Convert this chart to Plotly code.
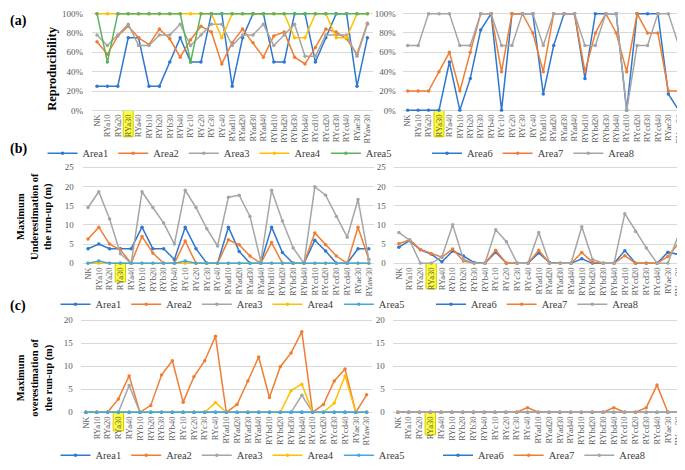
import plotly.graph_objects as go

# ---------------- data ----------------
cats = ["NK", "RYa10", "RYa20", "RYa30", "RYa40", "RYb10", "RYb20", "RYb30", "RYb40",
        "RYc10", "RYc20", "RYc30", "RYc40", "RYad10", "RYad20", "RYad30", "RYad40",
        "RYbd10", "RYbd20", "RYbd30", "RYbd40", "RYcd10", "RYcd20", "RYcd30", "RYcd40",
        "RYae30", "RYaw30"]
highlight_cat = "RYa30"

# (a) Reproducibility (%)
rep_area1 = [25, 25, 25, 75, 75, 25, 25, 50, 75, 50, 50, 100, 100, 25, 75, 100, 100, 50, 50, 100, 100, 50, 75, 100, 100, 25, 75]
rep_area2 = [71, 58, 77, 87, 75, 68, 84, 74, 55, 73, 87, 81, 48, 70, 84, 70, 55, 77, 81, 55, 48, 65, 84, 81, 74, 58, 90]
rep_area3 = [78, 67, 78, 89, 67, 67, 78, 78, 89, 67, 78, 89, 89, 67, 78, 78, 89, 67, 78, 89, 56, 56, 78, 78, 78, 56, 89]
rep_area4 = [100, 100, 100, 100, 100, 100, 100, 100, 100, 100, 100, 100, 75, 100, 100, 100, 100, 100, 100, 75, 75, 100, 100, 75, 75, 100, 100]
rep_area5 = [100, 50, 100, 100, 100, 100, 100, 100, 100, 50, 100, 100, 100, 100, 100, 100, 100, 100, 100, 100, 100, 100, 100, 100, 100, 100, 100]
rep_area6 = [0, 0, 0, 0, 50, 0, 33, 83, 100, 0, 100, 100, 100, 17, 67, 100, 100, 33, 100, 100, 100, 0, 100, 100, 100, 17, 0]
rep_area7 = [20, 20, 20, 40, 60, 20, 60, 100, 100, 40, 100, 100, 80, 40, 100, 100, 100, 40, 80, 100, 80, 40, 100, 80, 80, 20, 20]
rep_area8 = [67, 67, 100, 100, 100, 67, 67, 100, 100, 67, 67, 100, 100, 67, 100, 100, 100, 67, 67, 100, 100, 0, 67, 67, 100, 100, 67]

# (b) Maximum underestimation of the run-up (m)
und_area1 = [3.8, 5.0, 3.8, 3.8, 3.8, 9.4, 3.8, 3.8, 1.0, 9.4, 3.8, 0, 0, 9.4, 3.1, 0, 0, 9.4, 2.8, 0, 0, 6.0, 3.2, 0, 0, 3.8, 3.8]
und_area2 = [6.3, 9.4, 5.0, 3.5, 0, 7.0, 2.7, 0, 0, 5.8, 0, 0, 0, 6.1, 4.8, 1.9, 0, 5.4, 0, 0, 0, 7.9, 4.8, 1.9, 0, 9.4, 1.0]
und_area3 = [14.5, 18.6, 11.5, 2.5, 0, 18.6, 14.5, 10.5, 5.0, 19.0, 14.5, 9.0, 4.5, 17.2, 17.7, 12.2, 0.5, 19.0, 11.0, 4.0, 0, 19.9, 17.7, 12.2, 6.8, 16.6, 1.0]
und_area4 = [0, 0, 0, 0, 0, 0, 0, 0, 0, 0, 0, 0, 0, 0, 0, 0, 0, 0, 0, 0, 0, 0, 0, 0, 0, 0, 0]
und_area5 = [0, 0.6, 0, 0, 0, 0, 0, 0, 0, 0.6, 0, 0, 0, 0, 0, 0, 0, 0, 0, 0, 0, 0, 0, 0, 0, 0, 0]
und_area6 = [4.2, 5.9, 3.5, 2.4, 0.4, 3.2, 1.9, 0.2, 0, 2.9, 0, 0, 0, 2.7, 0.2, 0, 0, 1.2, 0, 0, 0, 3.3, 0, 0, 0, 2.9, 2.3]
und_area7 = [5.1, 6.1, 3.6, 2.5, 1.6, 3.7, 0.6, 0, 0, 3.4, 0, 0, 0, 3.4, 0, 0, 0, 2.8, 0.3, 0, 0, 2.0, 0, 0, 0, 1.8, 5.2]
und_area8 = [8.0, 6.0, 0, 0, 1.7, 10.0, 1.0, 0, 0, 8.7, 5.6, 0, 0, 8.0, 0, 0, 0, 9.5, 1.0, 0, 0, 12.9, 8.3, 4.0, 0, 0, 7.5]

# (c) Maximum overestimation of the run-up (m)
ove_area1 = [0, 0, 0, 0, 0, 0, 0, 0, 0, 0, 0, 0, 0, 0, 0, 0, 0, 0, 0, 0, 0, 0, 0, 0, 0, 0, 0]
ove_area2 = [0, 0, 0, 2.9, 7.9, 0, 1.5, 8.1, 11.2, 2.2, 7.7, 11.2, 16.5, 0, 1.7, 6.8, 12.0, 3.2, 9.9, 12.9, 17.5, 0, 1.7, 6.8, 9.4, 0, 3.8]
ove_area3 = [0, 0, 0, 0, 5.8, 0, 0, 0, 0, 0, 0, 0, 0, 0, 0, 0, 0, 0, 0, 0, 3.7, 0, 0, 0, 0, 0, 0]
ove_area4 = [0, 0, 0, 0, 0, 0, 0, 0, 0, 0, 0, 0, 2.1, 0, 0, 0, 0, 0, 0, 4.7, 6.1, 0, 0, 2.0, 7.9, 0, 0]
ove_area5 = [0, 0, 0, 0, 0, 0, 0, 0, 0, 0, 0, 0, 0, 0, 0, 0, 0, 0, 0, 0, 0, 0, 0, 0, 0, 0, 0]
ove_area6 = [0, 0, 0, 0, 0, 0, 0, 0, 0, 0, 0, 0, 0, 0, 0, 0, 0, 0, 0, 0, 0, 0, 0, 0, 0, 0, 0]
ove_area7 = [0, 0, 0, 0, 0, 0, 0, 0, 0, 0, 0, 0, 1.0, 0, 0, 0, 0, 0, 0, 0, 1.0, 0, 0, 1.0, 5.9, 0, 0]
ove_area8 = [0, 0, 0, 0, 0, 0, 0, 0, 0, 0, 0, 0, 0, 0, 0, 0, 0, 0, 0, 0, 0, 0, 0, 0, 0, 0, 0]

# ---------------- styles ----------------
FONT = "'Liberation Serif', 'Times New Roman', 'DejaVu Serif', serif"
# the page body has an 8px margin, so the figure is drawn 8px in from the window corner
OFF = 8
W, H = 685 - OFF, 470 - OFF
C_BLUE = "#2E78CF"
C_ORANGE = "#F07D32"
C_GRAY = "#A5A5A5"
C_YELLOW = "#FFC000"
C_GREEN = "#5BB35C"
C_LBLUE = "#45A7DE"
TICK_COL = "#595959"
GRID_COL = "#D9D9D9"


def px_x(x):  # window pixel -> paper fraction
    return (x - OFF) / W


def px_y(y):
    return 1 - (y - OFF) / H


fig = go.Figure()


def add(ax, legend, name, vals, color):
    fig.add_trace(go.Scatter(
        x=cats, y=vals, name=name, mode="lines+markers",
        line=dict(color=color, width=1.5),
        marker=dict(size=3.5, color=color),
        xaxis="x" + ax, yaxis="y" + ax, legend=legend,
        showlegend=True, hoverinfo="x+y+name"))


# panel (a)
add("", "legend", "Area1", rep_area1, C_BLUE)
add("", "legend", "Area2", rep_area2, C_ORANGE)
add("", "legend", "Area3", rep_area3, C_GRAY)
add("", "legend", "Area4", rep_area4, C_YELLOW)
add("", "legend", "Area5", rep_area5, C_GREEN)
add("2", "legend2", "Area6", rep_area6, C_BLUE)
add("2", "legend2", "Area7", rep_area7, C_ORANGE)
add("2", "legend2", "Area8", rep_area8, C_GRAY)
# panel (b)
add("3", "legend3", "Area1", und_area1, C_BLUE)
add("3", "legend3", "Area2", und_area2, C_ORANGE)
add("3", "legend3", "Area3", und_area3, C_GRAY)
add("3", "legend3", "Area4", und_area4, C_YELLOW)
add("3", "legend3", "Area5", und_area5, C_LBLUE)
add("4", "legend4", "Area6", und_area6, C_BLUE)
add("4", "legend4", "Area7", und_area7, C_ORANGE)
add("4", "legend4", "Area8", und_area8, C_GRAY)
# panel (c)
add("5", "legend5", "Area1", ove_area1, C_BLUE)
add("5", "legend5", "Area2", ove_area2, C_ORANGE)
add("5", "legend5", "Area3", ove_area3, C_GRAY)
add("5", "legend5", "Area4", ove_area4, C_YELLOW)
add("5", "legend5", "Area5", ove_area5, C_LBLUE)
add("6", "legend6", "Area6", ove_area6, C_BLUE)
add("6", "legend6", "Area7", ove_area7, C_ORANGE)
add("6", "legend6", "Area8", ove_area8, C_GRAY)

# ---------------- layout ----------------
# (axis suffix, x px left/right, y px top/bottom, y range, tick values, suffix, box height px, tick standoff)
panels = [
    ("", (91.8, 372.6), (9.2, 110.8), (-1.5, 101.5), [0, 20, 40, 60, 80, 100], "%", 27, 6),
    ("2", (402.5, 684.0), (9.2, 110.8), (-1.5, 101.5), [0, 20, 40, 60, 80, 100], "%", 27, 4),
    ("3", (82.6, 374.2), (165.7, 266.9), (-0.4, 25.4), [0, 5, 10, 15, 20, 25], "", 19, 6),
    ("4", (393.5, 684.0), (165.7, 266.9), (-0.4, 25.4), [0, 5, 10, 15, 20, 25], "", 26, 5),
    ("5", (80.6, 372.0), (321.7, 418.9), (-0.35, 20.35), [0, 5, 10, 15, 20], "", 19, 5),
    ("6", (392.5, 684.0), (321.7, 418.9), (-0.35, 20.35), [0, 5, 10, 15, 20], "", 23, 5),
]

layout = dict(
    width=W, height=H,
    margin=dict(l=0, r=0, t=0, b=0),
    paper_bgcolor="white", plot_bgcolor="white",
    font=dict(family=FONT, size=9, color=TICK_COL),
    shapes=[], annotations=[],
)

hi = cats.index(highlight_cat)
n = len(cats)
for ax, (xl, xr), (yt, yb), rng, tv, suf, boxh, tl in panels:
    layout["xaxis" + ax] = dict(
        domain=[px_x(xl), px_x(xr)], anchor="y" + ax, type="category",
        range=[-0.5, n - 0.5], tickmode="array", tickvals=cats, ticktext=cats,
        tickangle=-90, tickfont=dict(family=FONT, size=8.5, color=TICK_COL),
        showgrid=False, zeroline=False, showline=False, ticks="", fixedrange=True)
    layout["yaxis" + ax] = dict(
        domain=[px_y(yb), px_y(yt)], anchor="x" + ax, range=list(rng),
        tickmode="array", tickvals=tv, ticktext=[f"{v}{suf}" for v in tv],
        tickfont=dict(family=FONT, size=9, color=TICK_COL),
        showgrid=True, gridcolor=GRID_COL, gridwidth=1, zeroline=False,
        showline=False, ticks="outside", ticklen=tl, tickcolor="rgba(0,0,0,0)",
        fixedrange=True)
    # yellow highlight behind the highlighted category label
    plot_h = yb - yt
    zero_frac = (0 - rng[0]) / (rng[1] - rng[0])
    xref = ("x" + ax if ax else "x") + " domain"
    yref = ("y" + ax if ax else "y") + " domain"
    layout["shapes"].append(dict(
        type="rect", xref=xref, yref=yref,
        x0=(hi + 0.5 - 0.48) / n, x1=(hi + 0.5 + 0.48) / n,
        y0=zero_frac - boxh / plot_h, y1=zero_frac - 0.2 / plot_h,
        fillcolor="rgba(255,255,40,0.9)", line=dict(color="#D8C800", width=1),
        layer="below"))

# legends (window px centers)
leg_pos = {
    "legend": (220, 153), "legend2": (533, 153),
    "legend3": (233, 307), "legend4": (537, 307),
    "legend5": (233, 461), "legend6": (544, 461),
}
for k, (lx, ly) in leg_pos.items():
    layout[k] = dict(
        orientation="h", x=px_x(lx), y=px_y(ly), xanchor="center", yanchor="middle",
        font=dict(family=FONT, size=10.5, color="#404040"), bgcolor="rgba(0,0,0,0)",
        itemwidth=30, tracegroupgap=0)

# panel letters (top-left corners)
for txt, py in [("(a)", 8), ("(b)", 139), ("(c)", 299)]:
    layout["annotations"].append(dict(
        text="<b>" + txt + "</b>", xref="paper", yref="paper", x=0, y=min(1.0, px_y(py)),
        xanchor="left", yanchor="top", showarrow=False,
        font=dict(family=FONT, size=14, color="black")))

# y-axis titles
titles = [
    ("<b>Reproducibility</b>", 52, 66, 12.5),
    ("<b>Maximum<br>Underestimation of<br>the run-up (m)</b>", 35, 218, 10.5),
    ("<b>Maximum<br>overestimation of<br>the run-up (m)</b>", 35, 382, 10.5),
]
for txt, px, py, fs in titles:
    layout["annotations"].append(dict(
        text=txt, xref="paper", yref="paper", x=px_x(px), y=px_y(py),
        xanchor="center", yanchor="middle", textangle=-90, showarrow=False,
        align="center", font=dict(family=FONT, size=fs, color="black")))

fig.update_layout(**layout)
fig.write_html("out.html")
